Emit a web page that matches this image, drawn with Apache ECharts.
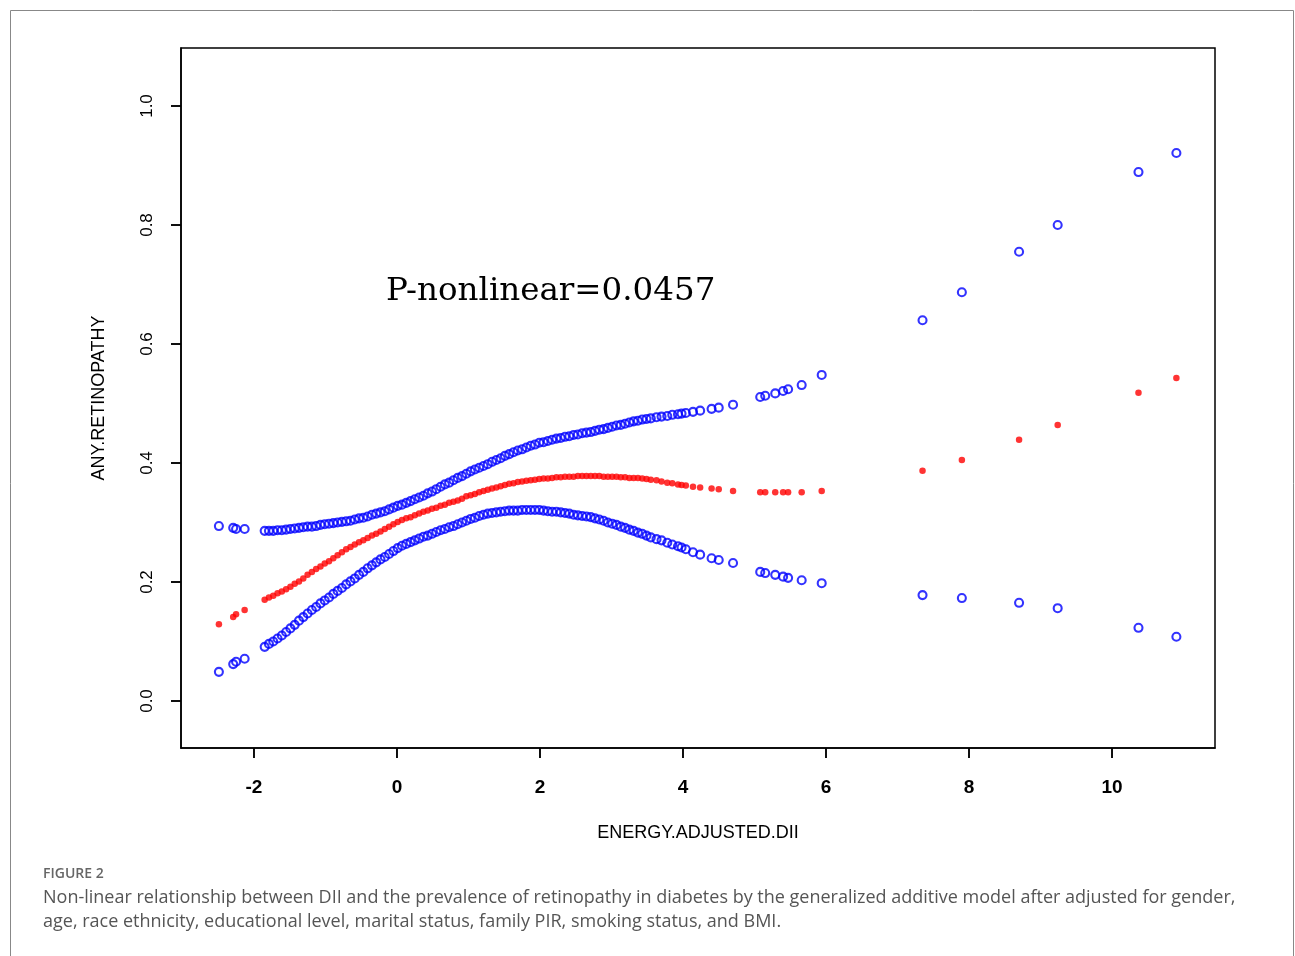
<!DOCTYPE html>
<html>
<head>
<meta charset="utf-8">
<script src="https://cdn.jsdelivr.net/npm/echarts@6/dist/echarts.min.js"></script>
<style>
  html, body { margin: 0; padding: 0; background: #fff; }
  #main { width: 1295px; height: 956px; }
</style>
</head>
<body>
<div id="main"></div>
<script>
// DII values (x) and fitted probability with 95% band
var dii = [-2.49, -2.29, -2.25, -2.13,
  -1.85, -1.79, -1.73, -1.67, -1.61, -1.55, -1.49, -1.43, -1.37, -1.31, -1.25, -1.19, -1.13, -1.07, -1.01,
  -0.95, -0.89, -0.83, -0.77, -0.71, -0.65, -0.59, -0.53, -0.47, -0.41, -0.35, -0.29, -0.23, -0.17, -0.11, -0.05,
  0.01, 0.07, 0.13, 0.19, 0.25, 0.31, 0.37, 0.43, 0.49, 0.55, 0.61, 0.67, 0.73, 0.79, 0.85, 0.91, 0.97,
  1.03, 1.09, 1.15, 1.21, 1.27, 1.33, 1.39, 1.45, 1.51, 1.57, 1.63, 1.69, 1.75, 1.81, 1.87, 1.93, 1.99,
  2.05, 2.11, 2.17, 2.23, 2.29, 2.35, 2.41, 2.47, 2.53, 2.59, 2.65, 2.71, 2.77, 2.83, 2.89, 2.95,
  3.01, 3.07, 3.13, 3.19, 3.25, 3.31, 3.37, 3.43, 3.49, 3.55,
  3.63, 3.70, 3.78, 3.85, 3.93, 3.98, 4.04, 4.14, 4.24, 4.40, 4.50, 4.70,
  5.08, 5.15, 5.29, 5.40, 5.47, 5.66, 5.94,
  7.35, 7.90, 8.70, 9.24, 10.37, 10.90];

var upper = [.294, .291, .289, .289,
  .286, .286, .286, .287, .287, .288, .289, .290, .291, .292, .293, .293, .294, .296, .297,
  .298, .299, .300, .301, .302, .303, .305, .307, .308, .310, .313, .315, .317, .319, .322, .325,
  .328, .330, .333, .336, .339, .342, .345, .349, .352, .356, .360, .364, .367, .371, .375, .378, .382,
  .386, .389, .392, .395, .398, .402, .405, .408, .412, .415, .418, .421, .423, .426, .429, .431, .434,
  .435, .437, .439, .441, .442, .444, .445, .447, .448, .450, .451, .452, .454, .456, .457, .459,
  .461, .463, .464, .466, .468, .470, .471, .473, .474, .475,
  .477, .478, .479, .481, .482, .483, .484, .486, .488, .491, .493, .498,
  .511, .513, .517, .521, .524, .531, .548,
  .640, .687, .755, .800, .889, .921];

var fit = [.129, .141, .146, .153,
  .170, .174, .177, .181, .184, .188, .192, .197, .201, .206, .212, .217, .222, .226, .231,
  .235, .240, .245, .250, .255, .259, .263, .267, .270, .274, .278, .281, .285, .289, .293, .297,
  .301, .304, .307, .309, .312, .315, .318, .320, .323, .325, .328, .330, .333, .335, .337, .340, .344,
  .346, .348, .351, .353, .355, .357, .359, .361, .363, .365, .366, .368, .369, .370, .371, .372, .373,
  .374, .374, .375, .376, .376, .377, .377, .377, .378, .378, .378, .378, .378, .378, .377, .377,
  .377, .377, .376, .376, .375, .375, .375, .374, .373, .372,
  .371, .369, .367, .366, .364, .363, .362, .360, .359, .357, .356, .353,
  .351, .351, .351, .351, .351, .351, .353,
  .387, .405, .439, .464, .518, .543];

var lower = [.049, .062, .066, .071,
  .091, .096, .100, .105, .110, .116, .122, .128, .135, .141, .147, .153, .158, .164, .169,
  .174, .180, .185, .190, .196, .201, .206, .212, .217, .223, .228, .233, .238, .242, .247, .252,
  .257, .261, .264, .267, .270, .273, .276, .278, .281, .284, .287, .289, .292, .294, .297, .300, .303,
  .306, .308, .311, .313, .315, .316, .317, .318, .319, .320, .320, .320, .321, .321, .321, .321, .321,
  .320, .319, .318, .318, .317, .316, .315, .313, .312, .311, .310, .309, .307, .305, .303, .300,
  .298, .296, .293, .291, .288, .286, .283, .281, .278, .275,
  .272, .270, .266, .263, .260, .258, .255, .250, .246, .240, .237, .232,
  .217, .215, .212, .209, .207, .203, .198,
  .178, .173, .165, .156, .123, .108];

var xTicks = [-2, 0, 2, 4, 6, 8, 10];
var yTicks = [0, 0.2, 0.4, 0.6, 0.8, 1.0];

var X_MIN = -3.02, X_MAX = 11.44, Y_MIN = -0.079, Y_MAX = 1.0975;

function pairs(ys) {
  return dii.map(function (x, i) { return [x, ys[i]]; });
}

var myChart = echarts.init(document.getElementById('main'));

var ring = {
  type: 'scatter',
  symbol: 'circle',
  symbolSize: 8,
  itemStyle: { color: 'transparent', borderColor: '#0000ff', borderWidth: 2.1 },
  silent: true
};

// outward tick at an axis value, dx/dy give its direction and length
function tickSeries(data, dx, dy) {
  return {
    type: 'custom', silent: true, clip: false, z: 20,
    encode: { x: 0, y: 1 },
    data: data,
    renderItem: function (params, api) {
      var p = api.coord([api.value(0), api.value(1)]);
      return {
        type: 'line', z2: 100,
        shape: { x1: p[0], y1: p[1], x2: p[0] + dx, y2: p[1] + dy },
        style: { stroke: '#000', lineWidth: 1.5 }
      };
    }
  };
}

var option = {
  backgroundColor: '#fff',
  animation: false,
  grid: {
    left: 181, top: 48, width: 1034, height: 700,
    show: true, borderColor: '#000', borderWidth: 1.5, backgroundColor: 'transparent'
  },
  xAxis: {
    type: 'value', min: X_MIN, max: X_MAX, position: 'bottom',
    splitLine: { show: false },
    axisLine: { show: true, onZero: false, lineStyle: { color: '#000', width: 1.5 } },
    axisTick: { show: true, inside: false, length: 10, customValues: xTicks,
      lineStyle: { color: '#000', width: 1.5 } },
    axisLabel: {
      customValues: xTicks, margin: 30, color: '#000',
      fontFamily: 'Liberation Sans', fontSize: 19, fontWeight: 'bold'
    },
    name: 'ENERGY.ADJUSTED.DII', nameLocation: 'middle', nameGap: 76,
    nameTextStyle: { color: '#000', fontFamily: 'Liberation Sans', fontSize: 18 }
  },
  yAxis: {
    type: 'value', min: Y_MIN, max: Y_MAX, position: 'left',
    splitLine: { show: false },
    axisLine: { show: true, onZero: false, lineStyle: { color: '#000', width: 1.5 } },
    axisTick: { show: true, inside: false, length: 10, customValues: yTicks,
      lineStyle: { color: '#000', width: 1.5 } },
    axisLabel: {
      customValues: yTicks, rotate: 90, margin: 25, color: '#000',
      fontFamily: 'Liberation Sans', fontSize: 17,
      formatter: function (v) { return v.toFixed(1); }
    },
    name: 'ANY.RETINOPATHY', nameLocation: 'middle', nameGap: 73,
    nameTextStyle: { color: '#000', fontFamily: 'Liberation Sans', fontSize: 18 }
  },
  graphic: [
    { type: 'rect', shape: { x: 10.5, y: 10.5, width: 1283, height: 960 }, silent: true,
      style: { fill: 'none', stroke: '#888', lineWidth: 1 } },
    { type: 'text', left: 386, top: 275, silent: true,
      style: { text: 'P-nonlinear=0.0457', fill: '#000', font: '32.5px "DejaVu Serif"' } },
    { type: 'text', left: 43, top: 867, silent: true,
      style: { text: 'FIGURE 2', fill: '#666', font: '600 14px "Open Sans"' } },
    { type: 'text', left: 43, top: 886, silent: true,
      style: { text: 'Non-linear relationship between DII and the prevalence of retinopathy in diabetes by the generalized additive model after adjusted for gender,\nage, race ethnicity, educational level, marital status, family PIR, smoking status, and BMI.',
        fill: '#555', font: '18px "Open Sans"', lineHeight: 24 } }
  ],
  series: [
    Object.assign({ name: 'upper', data: pairs(upper) }, ring),
    Object.assign({ name: 'lower', data: pairs(lower) }, ring),
    {
      name: 'fit', type: 'scatter', symbol: 'circle', symbolSize: 6.5,
      itemStyle: { color: '#ff0000' }, silent: true,
      data: pairs(fit)
    },
    tickSeries(xTicks.map(function (v) { return [v, Y_MIN]; }), 0, 10),
    tickSeries(yTicks.map(function (v) { return [X_MIN, v]; }), -10, 0)
  ]
};

myChart.setOption(option);
</script>
</body>
</html>
